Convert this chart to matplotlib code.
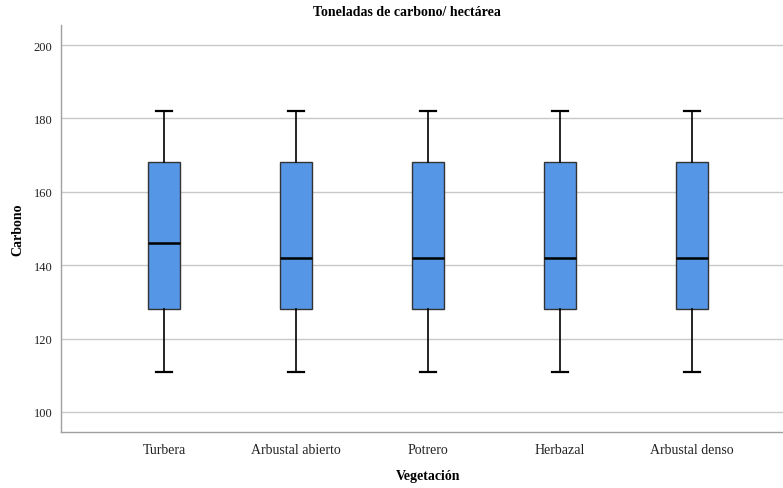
import matplotlib
matplotlib.use("Agg")
import matplotlib.pyplot as plt

categories = ["Turbera", "Arbustal abierto", "Potrero", "Herbazal", "Arbustal denso"]
whisker_low = [111, 111, 111, 111, 111]
q1 = [128, 128, 128, 128, 128]
medians = [146, 142, 142, 142, 142]
q3 = [168, 168, 168, 168, 168]
whisker_high = [182, 182, 182, 182, 182]
yticks = [100, 120, 140, 160, 180, 200]

plt.rcParams['font.family'] = ['Liberation Serif', 'DejaVu Serif']

fig = plt.figure(figsize=(7.83, 4.89), dpi=100)
ax = fig.add_axes([61/783, 56/489, 1 - 61/783, (433-26)/489])

stats = []
for i, c in enumerate(categories):
    stats.append(dict(label=c, whislo=whisker_low[i], q1=q1[i], med=medians[i],
                      q3=q3[i], whishi=whisker_high[i], fliers=[]))

ax.bxp(stats, positions=range(len(categories)), widths=0.242, patch_artist=True,
       showfliers=False,
       boxprops=dict(facecolor='#5596E6', edgecolor='#333333', linewidth=1.0),
       medianprops=dict(color='black', linewidth=1.8),
       whiskerprops=dict(color='black', linewidth=1.2),
       capprops=dict(color='black', linewidth=1.6),
       capwidths=0.118)

ax.set_xlim(-0.78, 4.69)
ax.set_ylim(94.55, 205.45)
ax.set_yticks(yticks)
ax.yaxis.grid(True, color='#c8c8c8', linewidth=1.0)
ax.set_axisbelow(True)
for s in ['top', 'right']:
    ax.spines[s].set_visible(False)
for s in ['left', 'bottom']:
    ax.spines[s].set_color('#a0a0a0')
    ax.spines[s].set_linewidth(1.0)
ax.tick_params(axis='both', length=0, labelsize=9, colors='#222222')
ax.tick_params(axis='x', pad=8, labelsize=10)
ax.tick_params(axis='y', pad=6)
ax.set_xticks(range(len(categories)))
ax.set_xticklabels(categories)

fig.text(407/783, 1 - 13/489, "Toneladas de carbono/ hectárea", fontsize=10,
         fontweight='bold', ha='center', va='center')
ax.set_ylabel("Carbono", fontsize=10, fontweight='bold')
ax.set_xlabel("Vegetación", fontsize=10, fontweight='bold')
ax.yaxis.set_label_coords((18-61)/722, 0.5)
ax.xaxis.set_label_coords((428-61)/722, (433-477)/407)
ax.xaxis.label.set_verticalalignment('center')
ax.yaxis.label.set_verticalalignment('center')

fig.savefig("out.png", dpi=100)
